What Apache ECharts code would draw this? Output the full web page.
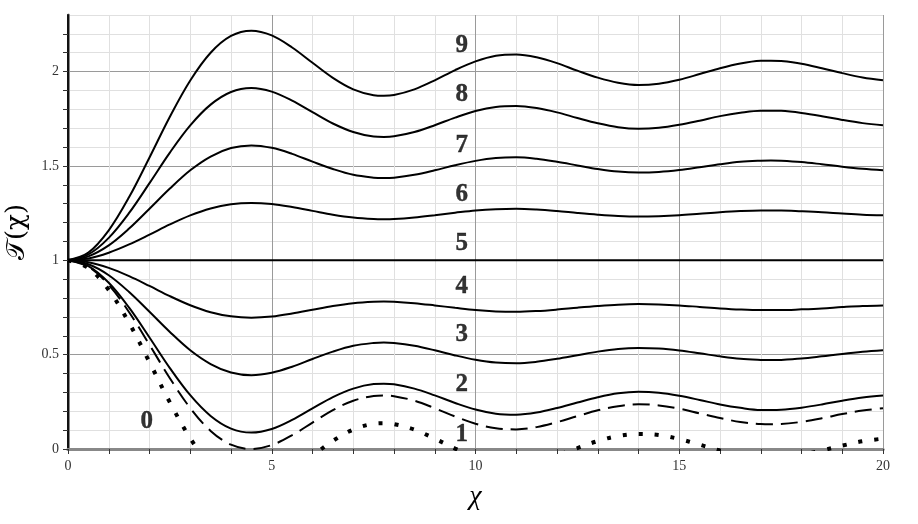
<!DOCTYPE html>
<html>
<head>
<meta charset="utf-8">
<script src="https://cdn.jsdelivr.net/npm/echarts@6/dist/echarts.min.js"></script>
<style>
html,body{margin:0;padding:0;background:#fff;}
#chart{width:918px;height:524px;}
</style>
</head>
<body>
<div id="chart"></div>
<script>
// x samples (chi)
var chi = [0,0.5,1,1.5,2,2.5,3,3.5,4,4.5,5,5.5,6,6.5,7,7.5,7.75,8,8.5,9,9.5,10,10.5,11,11.5,12,12.5,13,13.5,14,14.5,15,15.5,16,16.5,17,17.25,17.5,18,18.5,19,19.5,20];

var curve9 = [1,1.041,1.159,1.335,1.545,1.761,1.953,2.100,2.189,2.217,2.192,2.128,2.047,1.967,1.906,1.875,1.872,1.876,1.906,1.954,2.008,2.054,2.084,2.091,2.076,2.045,2.005,1.968,1.941,1.929,1.936,1.957,1.987,2.018,2.043,2.057,2.058,2.056,2.042,2.018,1.992,1.969,1.954];
var curve8 = [1,1.031,1.119,1.251,1.409,1.571,1.715,1.825,1.892,1.913,1.894,1.846,1.785,1.725,1.680,1.656,1.654,1.657,1.680,1.716,1.756,1.791,1.813,1.818,1.807,1.784,1.754,1.726,1.705,1.697,1.702,1.718,1.740,1.764,1.782,1.793,1.793,1.792,1.781,1.764,1.744,1.727,1.716];
var curve7 = [1,1.021,1.079,1.168,1.273,1.380,1.477,1.550,1.595,1.609,1.596,1.564,1.523,1.484,1.453,1.438,1.436,1.438,1.453,1.477,1.504,1.527,1.542,1.546,1.538,1.522,1.503,1.484,1.470,1.465,1.468,1.478,1.493,1.509,1.522,1.528,1.529,1.528,1.521,1.509,1.496,1.485,1.477];
var curve6 = [1,1.010,1.040,1.084,1.136,1.190,1.238,1.275,1.297,1.304,1.298,1.282,1.262,1.242,1.227,1.219,1.218,1.219,1.227,1.239,1.252,1.264,1.271,1.273,1.269,1.261,1.251,1.242,1.235,1.232,1.234,1.239,1.247,1.255,1.261,1.264,1.264,1.264,1.260,1.255,1.248,1.242,1.239];
var curve5 = [1,1,1,1,1,1,1,1,1,1,1,1,1,1,1,1,1,1,1,1,1,1,1,1,1,1,1,1,1,1,1,1,1,1,1,1,1,1,1,1,1,1,1];
var curve4 = [1,0.990,0.960,0.916,0.864,0.810,0.762,0.725,0.703,0.696,0.702,0.718,0.738,0.758,0.773,0.781,0.782,0.781,0.773,0.761,0.748,0.736,0.729,0.727,0.731,0.739,0.749,0.758,0.765,0.768,0.766,0.761,0.753,0.745,0.739,0.736,0.736,0.736,0.740,0.745,0.752,0.758,0.761];
var curve3 = [1,0.979,0.921,0.832,0.727,0.620,0.523,0.450,0.405,0.391,0.404,0.436,0.477,0.516,0.547,0.562,0.564,0.562,0.547,0.523,0.496,0.473,0.458,0.454,0.462,0.478,0.497,0.516,0.530,0.535,0.532,0.522,0.507,0.491,0.478,0.472,0.471,0.472,0.479,0.491,0.504,0.515,0.523];
var curve2 = [1,0.969,0.881,0.749,0.591,0.429,0.285,0.175,0.108,0.087,0.106,0.154,0.215,0.275,0.320,0.344,0.346,0.343,0.320,0.284,0.244,0.209,0.187,0.182,0.193,0.217,0.246,0.274,0.295,0.303,0.298,0.282,0.260,0.236,0.218,0.207,0.207,0.208,0.219,0.236,0.256,0.273,0.284];
var curve1 = [1,0.966,0.870,0.725,0.552,0.375,0.217,0.096,0.023,0.000,0.021,0.073,0.140,0.206,0.256,0.281,0.284,0.280,0.256,0.216,0.172,0.134,0.110,0.104,0.116,0.142,0.174,0.205,0.227,0.237,0.231,0.214,0.189,0.164,0.143,0.132,0.131,0.132,0.144,0.163,0.185,0.204,0.216];
var curve0 = [1,0.959,0.843,0.668,0.460,0.247,0.057,-0.089,-0.177,-0.205,-0.180,-0.117,-0.036,0.043,0.103,0.134,0.137,0.132,0.103,0.055,0.002,-0.044,-0.073,-0.080,-0.065,-0.034,0.005,0.042,0.069,0.080,0.074,0.053,0.023,-0.008,-0.033,-0.046,-0.047,-0.046,-0.031,-0.008,0.018,0.041,0.055];

// curve labels and their anchor points (data units)
var curveLabels = ['9','8','7','6','5','4','3','2','1','0'];
var labelChi = [9.66,9.66,9.66,9.66,9.66,9.66,9.66,9.66,9.66,1.93];
var labelT   = [2.14,1.88,1.61,1.35,1.09,0.86,0.605,0.34,0.075,0.145];

var xTickLabels = [0,5,10,15,20];
var yTickLabels = [0,0.5,1,1.5,2];

function pairs(ys){ return chi.map(function(x,i){ return [x, ys[i]]; }); }

var chart = echarts.init(document.getElementById('chart'), null, {renderer:'canvas'});

var serifFont = '"Liberation Serif","DejaVu Serif",serif';

function lineSeries(name, ys, type, width){
  return {
    name: name, type: 'line', data: pairs(ys), smooth: 0.35, symbol: 'none',
    clip: true, xAxisIndex: 0, yAxisIndex: 0,
    lineStyle: {color: '#000', width: width || 2, type: type || 'solid', cap: 'butt'},
    z: 5, silent: true
  };
}

var series = [
  lineSeries('9', curve9), lineSeries('8', curve8), lineSeries('7', curve7),
  lineSeries('6', curve6), lineSeries('5', curve5), lineSeries('4', curve4),
  lineSeries('3', curve3), lineSeries('2', curve2),
  lineSeries('1', curve1, [17, 8], 2),
  lineSeries('0', curve0, [4, 12], 4),
  {
    type: 'scatter', symbolSize: 0, silent: true, z: 10,
    data: curveLabels.map(function(t,i){ return {value:[labelChi[i], labelT[i]], name:t}; }),
    label: {show: true, position: 'inside', formatter: function(p){ return p.name; },
      color: '#000', fontFamily: serifFont, fontWeight: 'bold', fontSize: 25,
      textBorderColor: '#000', textBorderWidth: 0.4}
  }
];

function isMajor(v, step){ var r = v/step; return Math.abs(r - Math.round(r)) < 1e-6; }

var option = {
  backgroundColor: '#fff',
  animation: false,
  grid: {left: 68, right: 35, top: 15, bottom: 75, show: false, containLabel: false, outerBoundsMode: 'none'},
  xAxis: [{
    type: 'value', min: 0, max: 20, interval: 1,
    name: 'χ', nameLocation: 'middle', nameGap: 34,
    nameTextStyle: {fontFamily: serifFont, fontStyle: 'italic', fontSize: 28, color: '#000'},
    axisLine: {show: true, onZero: false, lineStyle: {color: '#888', width: 3}},
    axisTick: {show: true, length: 5, lineStyle: {color: '#333', width: 1}},
    axisLabel: {margin: 10, fontFamily: serifFont, fontSize: 14, color: '#333',
      formatter: function(v){ return xTickLabels.indexOf(v) >= 0 ? String(v) : ''; }},
    splitLine: {show: true, lineStyle: {color: ['#9a9a9a','#e0e0e0','#e0e0e0','#e0e0e0','#e0e0e0'], width: 1}}
  },{
    type: 'value', min: 0, max: 20, position: 'top',
    axisLine: {show: true, lineStyle: {color: '#888', width: 3}},
    axisTick: {show: false}, axisLabel: {show: false}, splitLine: {show: false}
  }],
  yAxis: [{
    type: 'value', min: 0, max: 2.3, interval: 0.1,
    name: '𝒯(χ)', nameLocation: 'middle', nameGap: 37, nameRotate: 90,
    nameTextStyle: {fontFamily: '"DejaVu Serif","DejaVu Sans",' + serifFont, fontSize: 26, color: '#000'},
    axisLine: {show: true, onZero: false, lineStyle: {color: '#888', width: 3}},
    axisTick: {show: true, length: 5, lineStyle: {color: '#333', width: 1}},
    axisLabel: {margin: 9, fontFamily: serifFont, fontSize: 14, color: '#333', showMaxLabel: false,
      formatter: function(v){ return isMajor(v, 0.5) ? String(Math.round(v*10)/10) : ''; }},
    splitLine: {show: true, lineStyle: {color: ['#9a9a9a','#e0e0e0','#e0e0e0','#e0e0e0','#e0e0e0'], width: 1}}
  },{
    type: 'value', min: 0, max: 2.3, position: 'right',
    axisLine: {show: true, lineStyle: {color: '#111', width: 2}},
    axisTick: {show: false}, axisLabel: {show: false}, splitLine: {show: false}
  }],
  series: series
};
chart.setOption(option);
</script>
</body>
</html>
